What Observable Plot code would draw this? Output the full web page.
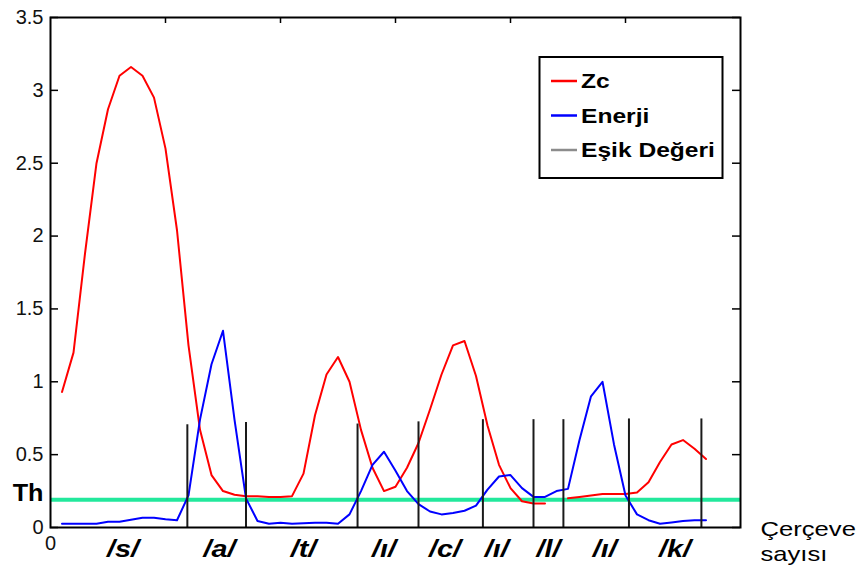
<!DOCTYPE html>
<html>
<head>
<meta charset="utf-8">
<script src="https://cdn.jsdelivr.net/npm/d3@7"></script>
<script src="https://cdn.jsdelivr.net/npm/@observablehq/plot@0.6"></script>
<style>
  html, body { margin: 0; padding: 0; background: #fff; }
  #chart svg { display: block; }
</style>
</head>
<body>
<div id="chart"></div>
<script>
// ---------------- data ----------------
const frames = [1,2,3,4,5,6,7,8,9,10,11,12,13,14,15,16,17,18,19,20,21,22,23,24,25,26,27,28,29,30,
  31,32,33,34,35,36,37,38,39,40,41,42,43,44,45,46,47,48,49,50,51,52,53,54,55,56,57];
const zcValues = [0.93,1.2,1.88,2.5,2.87,3.1,3.16,3.1,2.95,2.6,2.04,1.25,0.67,0.36,0.25,0.225,0.215,0.215,0.21,0.21,
  0.215,0.37,0.77,1.05,1.17,1.0,0.67,0.41,0.25,0.28,0.41,0.58,0.81,1.05,1.25,1.28,1.04,0.7,0.43,0.27,
  0.18,0.165,0.165,null,0.2,0.21,0.22,0.23,0.23,0.23,0.24,0.31,0.45,0.57,0.6,0.54,0.47];
const energyValues = [0.026,0.026,0.026,0.026,0.04,0.04,0.053,0.067,0.067,0.057,0.05,0.22,0.74,1.12,1.35,0.74,0.2,0.045,0.026,0.033,
  0.026,0.03,0.033,0.033,0.026,0.09,0.25,0.43,0.52,0.39,0.25,0.16,0.11,0.09,0.1,0.115,0.15,0.26,0.35,0.36,
  0.27,0.21,0.21,0.25,0.265,0.6,0.9,1.0,0.57,0.22,0.09,0.05,0.026,0.035,0.045,0.05,0.05];
const threshold = 0.19;
const boundaryFrames = [11.9, 17.0, 26.7, 32.0, 37.6, 42.0, 44.6, 50.3, 56.6];
const boundaryTops = [0.705, 0.72, 0.71, 0.725, 0.74, 0.74, 0.74, 0.745, 0.745];
const phonemes = ["/s/", "/a/", "/t/", "/ı/", "/c/", "/ı/", "/l/", "/ı/", "/k/"];
const phonemeFrames = [6.3, 14.7, 22.0, 29.0, 34.3, 38.8, 43.3, 48.2, 54.3];
const yTicks = [0, 0.5, 1, 1.5, 2, 2.5, 3, 3.5];
const xTopTicks = [10, 20, 30, 40, 50];
const xZero = [0];
const legendLabels = ["Zc", "Enerji", "Eşik Değeri"];
const xAxisTitle = "Çerçeve\nsayısı";

// ---------------- styles ----------------
const FONT = "'Liberation Sans', Arial, Helvetica, sans-serif";
const COLORS = {zc: "#ff0000", energy: "#0000ff", threshold: "#22e89c", boundary: "#1a1a1a", legendGray: "#8c8c8c"};
const legendColors = [COLORS.zc, COLORS.energy, COLORS.legendGray];

const zcRows = frames.map((f, i) => ({frame: f, v: zcValues[i]}));
const enRows = frames.map((f, i) => ({frame: f, v: energyValues[i]}));
const boundaryRows = boundaryFrames.map((f, i) => ({x: f, top: boundaryTops[i]}));
const phonemeRows = phonemes.map((p, i) => ({label: p, x: phonemeFrames[i]}));

const plot = Plot.plot({
  width: 862,
  height: 567,
  marginLeft: 50,
  marginRight: 122,
  marginTop: 17,
  marginBottom: 40,
  x: {domain: [0, 60], axis: null, label: null},
  y: {domain: [0, 3.5], axis: null, label: null},
  style: {fontFamily: FONT, fontSize: "20px", color: "#000", background: "#fff", overflow: "visible"},
  marks: [
    Plot.ruleY([threshold], {stroke: COLORS.threshold, strokeWidth: 4}),
    Plot.line(zcRows, {x: "frame", y: "v", stroke: COLORS.zc, strokeWidth: 2}),
    Plot.line(enRows, {x: "frame", y: "v", stroke: COLORS.energy, strokeWidth: 2}),
    Plot.ruleX(boundaryRows, {x: "x", y1: 0, y2: "top", stroke: COLORS.boundary, strokeWidth: 2}),
    Plot.frame({stroke: "#000", strokeWidth: 2}),
    Plot.tickY(yTicks, {y: d => d, insetRight: 682, stroke: "#000", strokeWidth: 1.5}),
    Plot.tickY(yTicks, {y: d => d, insetLeft: 682, stroke: "#000", strokeWidth: 1.5}),
    Plot.tickX(xTopTicks, {x: d => d, insetBottom: 504, stroke: "#000", strokeWidth: 1.5}),
    Plot.axisY(yTicks, {tickSize: 0, tickPadding: 7, fontSize: 20, fill: "#111", tickFormat: d => String(d)}),
    Plot.axisY([threshold], {tickSize: 0, tickPadding: 7, fontSize: 24, fontWeight: "bold", fill: "#000", tickFormat: () => "Th", dy: -7}),
    Plot.axisX(xZero, {tickSize: 0, tickPadding: 8, fontSize: 20, fill: "#111", tickFormat: d => String(d)}),
    Plot.text(phonemeRows, {x: "x", y: 0, text: "label", dy: 22, fontSize: 23, fontWeight: "bold", fontStyle: "italic", fill: "#000"}),
    Plot.text([xAxisTitle], {frameAnchor: "bottom-right", dx: 20, dy: -9, textAnchor: "start", lineAnchor: "top", lineHeight: 1.19, fontSize: 21, fill: "#000"})
  ]
});

document.getElementById("chart").appendChild(plot);

// ---------------- legend ----------------
const svg = d3.select(plot);
const lg = svg.append("g").attr("font-family", FONT).attr("font-weight", "bold").attr("font-size", 21)
  .attr("text-anchor", "start");
lg.append("rect").attr("x", 539.5).attr("y", 57).attr("width", 183).attr("height", 121)
  .attr("fill", "#fff").attr("stroke", "#000").attr("stroke-width", 2);
legendLabels.forEach((name, i) => {
  const ly = 81 + i * 34.5;
  lg.append("line").attr("x1", 551).attr("x2", 577).attr("y1", ly).attr("y2", ly)
    .attr("stroke", legendColors[i]).attr("stroke-width", 2.5);
  lg.append("text").attr("class", "stretch-leg").attr("x", 581).attr("y", ly + 7)
    .attr("text-anchor", "start").attr("fill", "#000").text(name);
});

// horizontal stretching of annotation text (the reference is horizontally stretched)
function stretch(el, factor) {
  const len = el.getComputedTextLength();
  if (len > 0) {
    el.setAttribute("textLength", (len * factor).toFixed(1));
    el.setAttribute("lengthAdjust", "spacingAndGlyphs");
  }
}
svg.selectAll("text").each(function() {
  const t = this.textContent;
  if (this.classList.contains("stretch-leg")) stretch(this, 1.17);
  else if (phonemes.includes(t)) stretch(this, 1.25);
  else if (t === "Th") stretch(this, 1.05);
});
svg.selectAll("tspan").each(function() {
  const t = this.textContent;
  if (t === "Çerçeve" || t === "sayısı") stretch(this, 1.22);
});
</script>
</body>
</html>
